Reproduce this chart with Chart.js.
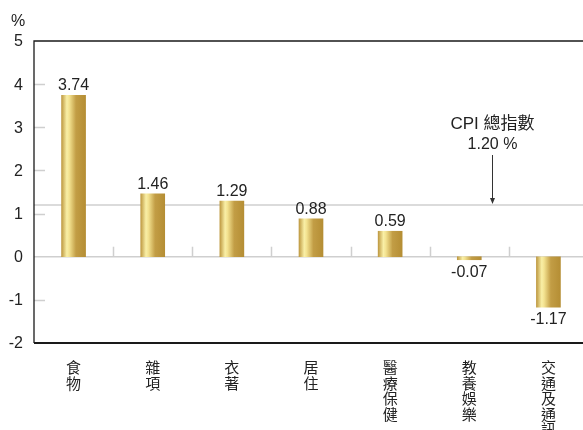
<!DOCTYPE html>
<html>
<head>
<meta charset="utf-8">
<script src="https://cdn.jsdelivr.net/npm/chart.js@4"></script>
<style>
  html, body { margin: 0; padding: 0; background: #fff; overflow: hidden; }
  #wrap { width: 588px; height: 430px; }
</style>
</head>
<body>
<div id="wrap"><canvas id="cv" width="588" height="430"></canvas></div>
<script>
// ===== data
const categories = ['食物', '雜項', '衣著', '居住', '醫療保健', '教養娛樂', '交通及通訊'];
const changes    = [3.74, 1.46, 1.29, 0.88, 0.59, -0.07, -1.17];
const yTicks     = [-2, -1, 0, 1, 2, 3, 4, 5];
const cpiTotal   = 1.20;
const cpiTitle   = 'CPI 總指數';
const unitLabel  = '%';

const FONT = '"Liberation Sans", Arial, "Noto Sans CJK TC", sans-serif';
const INK = '#222';

// gold gradient per bar (scriptable, so options are not shared)
function goldFill(c) {
  const chart = c.chart;
  const xs = chart.scales && chart.scales.x;
  if (!xs || c.dataIndex === undefined) return '#b8923a';
  const x = xs.getPixelForValue(c.dataIndex);
  if (!Number.isFinite(x)) return '#b8923a';
  const g = chart.ctx.createLinearGradient(x - 12, 0, x + 12, 0);
  g.addColorStop(0,    '#bf9a42');
  g.addColorStop(0.22, '#f9efa6');
  g.addColorStop(0.32, '#f3e290');
  g.addColorStop(0.6,  '#c29d45');
  g.addColorStop(1,    '#b58e34');
  return g;
}

// frame, ticks, zero line, CPI line, labels
const decor = {
  id: 'decor',
  beforeDatasetsDraw(chart) {
    const { ctx, chartArea: a, scales: { x, y } } = chart;
    ctx.save();
    // inner tick marks
    ctx.strokeStyle = '#cfcfcf';
    ctx.lineWidth = 1.5;
    yTicks.forEach(v => {
      if (v === 0 || v === yTicks[0] || v === yTicks[yTicks.length - 1]) return;
      const py = Math.round(y.getPixelForValue(v)) + 0.5;
      ctx.beginPath(); ctx.moveTo(a.left, py); ctx.lineTo(a.left + 11, py); ctx.stroke();
    });
    // zero line
    const y0 = y.getPixelForValue(0);
    ctx.beginPath(); ctx.moveTo(a.left, y0); ctx.lineTo(a.right, y0); ctx.stroke();
    // category separators on the zero line
    const w = x.width / categories.length;
    for (let i = 1; i < categories.length; i++) {
      const px = Math.round(a.left + w * i) + 0.5;
      ctx.beginPath(); ctx.moveTo(px, y0); ctx.lineTo(px, y0 - 10); ctx.stroke();
    }
    // CPI line
    const yc = y.getPixelForValue(cpiTotal);
    ctx.beginPath(); ctx.moveTo(a.left, yc); ctx.lineTo(a.right, yc); ctx.stroke();
    ctx.restore();
  },
  afterDatasetsDraw(chart) {
    const { ctx, chartArea: a, scales: { x, y } } = chart;
    ctx.save();
    // frame
    ctx.strokeStyle = '#1a1a1a';
    ctx.lineWidth = 1.3;
    ctx.beginPath();
    ctx.moveTo(a.right, a.top); ctx.lineTo(a.left, a.top); ctx.lineTo(a.left, a.bottom);
    ctx.stroke();
    ctx.lineWidth = 2;
    ctx.beginPath(); ctx.moveTo(a.left, a.bottom); ctx.lineTo(a.right, a.bottom); ctx.stroke();

    // y tick labels
    ctx.fillStyle = INK;
    ctx.font = '16px ' + FONT;
    ctx.textAlign = 'right';
    ctx.textBaseline = 'middle';
    yTicks.forEach(v => ctx.fillText(String(v), a.left - 11, y.getPixelForValue(v) + 1));

    // value labels
    ctx.textAlign = 'center';
    ctx.textBaseline = 'alphabetic';
    chart.getDatasetMeta(0).data.forEach((bar, i) => {
      const v = changes[i];
      const ty = v >= 0 ? bar.y - 5 : bar.y + 17;
      ctx.fillText(v.toFixed(2), bar.x, ty);
    });

    // unit
    ctx.fillText(unitLabel, 18, 26);

    // CPI annotation
    const w = x.width / categories.length;
    const ax = Math.round(x.getPixelForValue(5) + 0.29 * w) + 0.5;
    const yc = y.getPixelForValue(cpiTotal);
    ctx.font = '17px ' + FONT;
    ctx.fillText(cpiTitle, ax, 129);
    ctx.font = '16px ' + FONT;
    ctx.fillText(cpiTotal.toFixed(2) + ' %', ax, 149);
    ctx.strokeStyle = '#333';
    ctx.lineWidth = 1;
    ctx.beginPath(); ctx.moveTo(ax, 155); ctx.lineTo(ax, yc - 2); ctx.stroke();
    ctx.fillStyle = '#333';
    ctx.beginPath();
    ctx.moveTo(ax - 2.5, yc - 7); ctx.lineTo(ax + 2.5, yc - 7); ctx.lineTo(ax, yc - 1);
    ctx.closePath(); ctx.fill();
    ctx.restore();
  }
};

new Chart(document.getElementById('cv'), {
  type: 'bar',
  data: {
    labels: categories.map(s => s.split('')),
    datasets: [{
      data: changes,
      backgroundColor: goldFill,
      borderWidth: 0,
      barThickness: 24
    }]
  },
  options: {
    responsive: false,
    animation: false,
    layout: { padding: { top: 41, right: 0, left: 0, bottom: 0 } },
    plugins: { legend: { display: false }, tooltip: { enabled: false } },
    scales: {
      x: {
        grid: { display: false },
        border: { display: false },
        afterFit: s => { s.height = 87; },
        ticks: {
          color: INK,
          font: { family: FONT, size: 15, lineHeight: 1.04 },
          padding: 10,
          maxRotation: 0,
          autoSkip: false
        }
      },
      y: {
        min: -2,
        max: 5,
        grid: { display: false },
        border: { display: false },
        afterFit: s => { s.width = 34; },
        afterBuildTicks: s => { s.ticks = yTicks.map(v => ({ value: v })); },
        ticks: { display: false }
      }
    }
  },
  plugins: [decor]
});
</script>
</body>
</html>
